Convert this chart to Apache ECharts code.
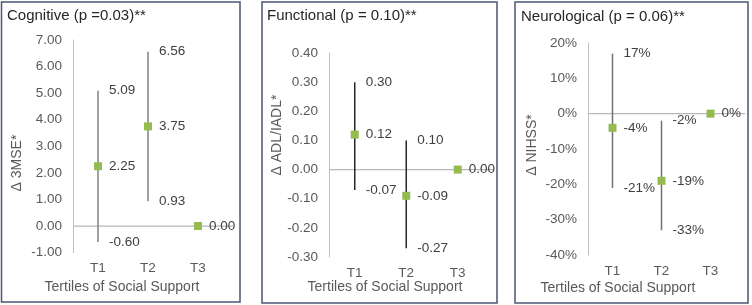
<!DOCTYPE html>
<html>
<head>
<meta charset="utf-8">
<script src="https://cdn.jsdelivr.net/npm/echarts@6/dist/echarts.min.js"></script>
<style>
html,body{margin:0;padding:0;background:#fff;}
#chart{width:752px;height:305px;}
</style>
</head>
<body>
<div id="chart"></div>
<script>
// ---- data ----
const categories = ['T1', 'T2', 'T3'];

const panelTitles = ['Cognitive (p =0.03)**', 'Functional (p = 0.10)**', 'Neurological (p = 0.06)**'];
const yAxisNames = ['\u0394 3MSE*', '\u0394 ADL/IADL*', '\u0394 NIHSS*'];
const xAxisName = 'Tertiles of Social Support';

const cogMean = [2.25, 3.75, 0.00];
const cogLow = [-0.60, 0.93, null];
const cogHigh = [5.09, 6.56, null];

const funcMean = [0.12, -0.09, 0.00];
const funcLow = [-0.07, -0.27, null];
const funcHigh = [0.30, 0.10, null];

const neuroMean = [-4, -19, 0];
const neuroLow = [-21, -33, null];
const neuroHigh = [17, -2, null];

const cogTicks = { min: -1, max: 7, interval: 1 };
const funcTicks = { min: -0.3, max: 0.4, interval: 0.1 };
const neuroTicks = { min: -40, max: 20, interval: 10 };

// ---- styles ----
const FONT = 'Liberation Sans, Arial, sans-serif';
const grids = [
  { left: 73, top: 40, width: 150, height: 212.6 },
  { left: 329, top: 53, width: 154.5, height: 204 },
  { left: 588, top: 43, width: 147, height: 212 }
];
const barColors = ['#808080', '#262626', '#707070'];
const markerColor = '#94BB50';
const labelColor = '#404040';
const fmt2 = v => v.toFixed(2);
const fmtPct = v => Math.round(v) + '%';
const labelFormatters = [fmt2, fmt2, fmtPct];

function buildData(mean, low, high) {
  return categories.map((c, i) => [i, mean[i], low[i] == null ? '-' : low[i], high[i] == null ? '-' : high[i]]);
}
const panelData = [
  buildData(cogMean, cogLow, cogHigh),
  buildData(funcMean, funcLow, funcHigh),
  buildData(neuroMean, neuroLow, neuroHigh)
];
const ticks = [cogTicks, funcTicks, neuroTicks];

function makeRender(pi) {
  const f = labelFormatters[pi];
  return function (params, api) {
    const i = api.value(0), m = api.value(1), lo = api.value(2), hi = api.value(3);
    const pm = api.coord([i, m]);
    const children = [];
    const lab = (v, p) => ({
      type: 'text', z2: 5,
      style: { text: f(v), x: p[0] + 11, y: p[1], fill: labelColor, fontSize: 13.5, fontFamily: FONT, align: 'left', verticalAlign: 'middle' }
    });
    if (!isNaN(lo) && !isNaN(hi)) {
      const pl = api.coord([i, lo]);
      const ph = api.coord([i, hi]);
      children.push({ type: 'line', shape: { x1: ph[0], y1: ph[1], x2: pl[0], y2: pl[1] }, style: { stroke: barColors[pi], lineWidth: 1.5 } });
      children.push(lab(hi, ph));
      children.push(lab(lo, pl));
    }
    children.push({ type: 'rect', z2: 4, shape: { x: pm[0] - 4, y: pm[1] - 4, width: 8, height: 8 }, style: { fill: markerColor } });
    children.push(lab(m, pm));
    return { type: 'group', children };
  };
}

function zeroRender(params, api) {
  const cs = params.coordSys;
  const p = api.coord([0, 0]);
  return { type: 'line', shape: { x1: cs.x, y1: p[1], x2: cs.x + cs.width + 10, y2: p[1] }, style: { stroke: '#b8b8b8', lineWidth: 1.2 } };
}

const option = {
  backgroundColor: '#fff',
  animation: false,
  grid: grids.map(g => Object.assign({ containLabel: false }, g)),
  xAxis: grids.map((g, i) => ({
    type: 'category', gridIndex: i, data: categories,
    axisLine: { show: false }, axisTick: { show: false },
    axisLabel: { color: '#595959', fontSize: 13.5, fontFamily: FONT, margin: 9 },
    splitLine: { show: false }
  })),
  yAxis: grids.map((g, i) => ({
    type: 'value', gridIndex: i,
    min: ticks[i].min, max: ticks[i].max, interval: ticks[i].interval,
    axisLine: { show: true, onZero: false, lineStyle: { color: '#bfbfbf', width: 1 } },
    axisTick: { show: false },
    splitLine: { show: false },
    axisLabel: {
      color: '#595959', fontSize: 13.5, fontFamily: FONT, margin: 11,
      formatter: i === 2 ? (v => Math.round(v) + '%') : (v => v.toFixed(2))
    }
  })),
  series: [].concat(
    grids.map((g, i) => ({
      type: 'custom', xAxisIndex: i, yAxisIndex: i, z: 1,
      renderItem: zeroRender, data: [[0, 0]], silent: true
    })),
    grids.map((g, i) => ({
      type: 'custom', xAxisIndex: i, yAxisIndex: i, z: 2,
      renderItem: makeRender(i), data: panelData[i],
      encode: { x: 0, y: [1, 2, 3] }
    }))
  ),
  graphic: [
    // panel borders
    { type: 'rect', shape: { x: 1.5, y: 2, width: 238.5, height: 300 }, style: { fill: 'none', stroke: '#4a5675', lineWidth: 1.5 }, silent: true },
    { type: 'rect', shape: { x: 262, y: 2, width: 235, height: 301 }, style: { fill: 'none', stroke: '#4a5675', lineWidth: 1.5 }, silent: true },
    { type: 'rect', shape: { x: 515, y: 2, width: 233, height: 301 }, style: { fill: 'none', stroke: '#4a5675', lineWidth: 1.5 }, silent: true },
    // titles
    { type: 'text', x: 7, y: 16, style: { text: panelTitles[0], fill: '#262626', fontSize: 15, fontFamily: FONT, verticalAlign: 'middle' } },
    { type: 'text', x: 267, y: 16, style: { text: panelTitles[1], fill: '#262626', fontSize: 15, fontFamily: FONT, verticalAlign: 'middle' } },
    { type: 'text', x: 521, y: 17, style: { text: panelTitles[2], fill: '#262626', fontSize: 15, fontFamily: FONT, verticalAlign: 'middle' } },
    // y axis names
    { type: 'text', x: 17, y: 163, rotation: Math.PI / 2, style: { text: yAxisNames[0], fill: '#595959', fontSize: 14, fontFamily: FONT, align: 'center', verticalAlign: 'middle' } },
    { type: 'text', x: 277, y: 135, rotation: Math.PI / 2, style: { text: yAxisNames[1], fill: '#595959', fontSize: 14, fontFamily: FONT, align: 'center', verticalAlign: 'middle' } },
    { type: 'text', x: 532, y: 145, rotation: Math.PI / 2, style: { text: yAxisNames[2], fill: '#595959', fontSize: 14, fontFamily: FONT, align: 'center', verticalAlign: 'middle' } },
    // x axis names
    { type: 'text', x: 122, y: 287, style: { text: xAxisName, fill: '#595959', fontSize: 14, fontFamily: FONT, align: 'center', verticalAlign: 'middle' } },
    { type: 'text', x: 385, y: 287, style: { text: xAxisName, fill: '#595959', fontSize: 14, fontFamily: FONT, align: 'center', verticalAlign: 'middle' } },
    { type: 'text', x: 618, y: 288, style: { text: xAxisName, fill: '#595959', fontSize: 14, fontFamily: FONT, align: 'center', verticalAlign: 'middle' } }
  ]
};

const chart = echarts.init(document.getElementById('chart'), null, { renderer: 'canvas' });
chart.setOption(option);
</script>
</body>
</html>
